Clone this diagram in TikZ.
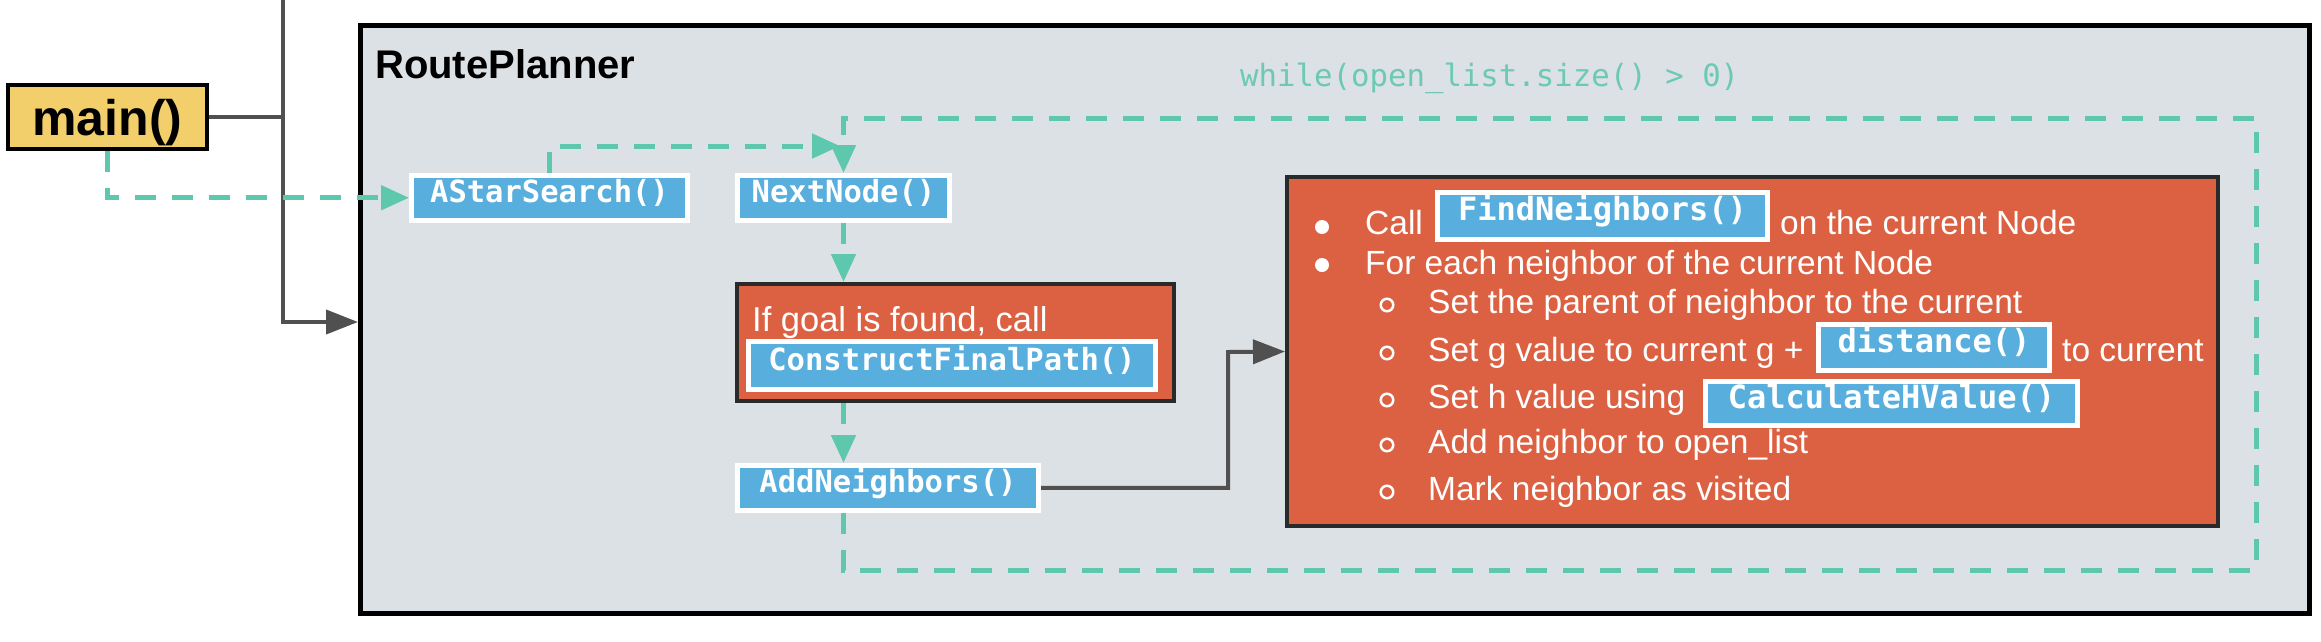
\documentclass[tikz,border=0pt]{standalone}
\usepackage{fontspec}
\setmainfont{Liberation Sans}
\newfontfamily\codefont{DejaVu Sans Mono}
\usetikzlibrary{arrows.meta,calc}
\definecolor{tealc}{HTML}{5DC8AE}
\definecolor{tealtxt}{HTML}{6CC9B3}
\definecolor{blueb}{HTML}{58AEDD}
\definecolor{redb}{HTML}{DC6142}
\definecolor{yellowb}{HTML}{F3CF6C}
\definecolor{rpbg}{HTML}{DCE1E5}
\definecolor{lineg}{HTML}{505050}
\definecolor{darkb}{HTML}{2A2A2A}
\begin{document}
\begin{tikzpicture}[x=1pt,y=-1pt,
  grayline/.style={draw=lineg, line width=4pt},
  tealdash/.style={draw=tealc, line width=5pt, dash pattern=on 21pt off 16pt},
  tarrow/.style={-{Triangle[length=28pt,width=24pt]}},
  garrow/.style={-{Triangle[length=32pt,width=24pt]}},
  codebox/.style={rectangle, fill=blueb, draw=white, line width=5pt, inner sep=0pt,
    text=white, font=\codefont\bfseries\fontsize{30.5pt}{36pt}\selectfont,
    text height=26.5pt, text depth=18pt, anchor=base},
  incode/.style={codebox, font=\codefont\bfseries\fontsize{32pt}{38pt}\selectfont},
  redbox/.style={rectangle, fill=redb, draw=darkb, line width=4pt, inner sep=0pt},
  txt/.style={anchor=base west, inner sep=0pt, text=white, font=\fontsize{33.5pt}{40pt}\selectfont},
  bul/.style={circle, fill=white, inner sep=0pt, minimum size=14pt},
  sbul/.style={circle, draw=white, line width=2.5pt, inner sep=0pt, minimum size=12.5pt}]
\useasboundingbox (0,0) rectangle (2321,641);
\fill[white] (0,0) rectangle (2321,641);

% RoutePlanner container
\node[rectangle, fill=rpbg, draw=black, line width=5pt, minimum width=1949pt, minimum height=588pt, inner sep=0pt] (rp) at (1335,319.5) {};
\node[anchor=base west, inner sep=0pt, font=\bfseries\fontsize{40pt}{48pt}\selectfont] (rptitle) at (375,78) {RoutePlanner};

% main
\node[rectangle, fill=yellowb, draw=black, line width=4pt, minimum width=199pt, inner sep=0pt,
  text height=50pt, text depth=14pt, anchor=base, font=\bfseries\fontsize{50pt}{60pt}\selectfont] (main) at (107.5,135) {main()};

% left column nodes
\node[codebox, minimum width=276pt] (astar) at (549.5,202) {AStarSearch()};
\node[codebox, minimum width=212pt] (nn) at (843.5,202) {NextNode()};
\node[redbox, minimum width=437pt, minimum height=117pt] (ifgoal) at (955.5,342.5) {};
\node[txt, font=\fontsize{34.5pt}{40pt}\selectfont] (ifgoaltxt) at (752,331) {If goal is found, call};
\node[codebox, minimum width=407pt, text height=28.5pt, text depth=19.5pt] (cfp) at (952,370) {ConstructFinalPath()};
\node[codebox, minimum width=301pt] (addn) at (888,492) {AddNeighbors()};

% while label
\node[anchor=base west, inner sep=0pt, text=tealtxt, font=\codefont\fontsize{30.7pt}{36pt}\selectfont] (whiletxt) at (1240,86) {while(open\_list.size() > 0)};

% neighbor box
\node[redbox, minimum width=931pt, minimum height=349pt] (nbr) at (1752.5,351.5) {};
\node[bul] (b1) at (1322,227) {};
\node[txt] (t1a) at (1365,234) {Call};
\node[incode, minimum width=330pt, text height=27.5pt, text depth=19.5pt] (fn) at (1602.5,220) {FindNeighbors()};
\node[txt] (t1b) at (1780,234) {on the current Node};
\node[bul] (b2) at (1322,265) {};
\node[txt] (t2) at (1365,274) {For each neighbor of the current Node};
\node[sbul] (s1) at (1387,305) {};
\node[txt] (t3) at (1428,313) {Set the parent of neighbor to the current};
\node[sbul] (s2) at (1387,353) {};
\node[txt] (t4a) at (1428,361) {Set g value to current g +};
\node[incode, minimum width=231pt, text height=27.5pt, text depth=18.5pt] (dist) at (1934,352) {distance()};
\node[txt] (t4b) at (2062,361) {to current};
\node[sbul] (s3) at (1387,400) {};
\node[txt] (t5) at (1428,408) {Set h value using};
\node[incode, minimum width=372pt, text height=26.5pt, text depth=17.5pt] (calc) at (1891.5,408) {CalculateHValue()};
\node[sbul] (s4) at (1387,445) {};
\node[txt] (t6) at (1428,453) {Add neighbor to open\_list};
\node[sbul] (s5) at (1387,492) {};
\node[txt] (t7) at (1428,500) {Mark neighbor as visited};

% coordinates
\coordinate (vtop) at (283,-6);
\coordinate (vbot) at (283,322);
\coordinate (joinpt) at (840,146);
\coordinate (loopbr) at (2256,570);
\coordinate (looptr) at (2256,118);
\coordinate (elb) at (1228,352);

% gray connectors
\draw[grayline] (main.east) -- (main.east -| vtop);
\draw[grayline, garrow] (vtop) -- (vbot) -- (vbot -| rp.west);
\draw[grayline, garrow] (addn.east) -| (elb) -- (nbr.west);

% teal connectors
\draw[tealdash, tarrow] (main.south) |- (astar.west);
\draw[tealdash, tarrow] (astar.north) |- (joinpt);
\draw[tealdash, tarrow] (nn.south) -- (nn.south |- ifgoal.north);
\draw[tealdash, tarrow] (nn.south |- ifgoal.south) -- (nn.south |- addn.north);
\draw[tealdash, tarrow] (nn.south |- addn.south) |- (loopbr) -- (looptr) -| (nn.north);
\end{tikzpicture}
\end{document}
